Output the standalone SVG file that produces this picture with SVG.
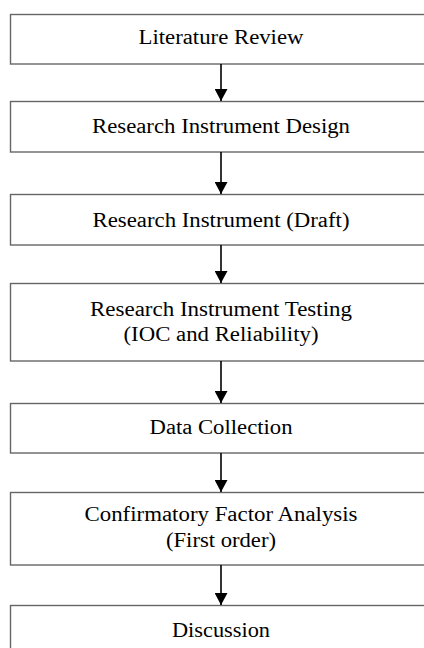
<svg xmlns="http://www.w3.org/2000/svg" width="424" height="648" viewBox="0 0 424 648">
<defs>
<style>
.box{fill:#fff;stroke:#666;stroke-width:1.4}
.t{font-family:"Liberation Serif","Times New Roman",serif;font-size:20px;fill:#000;text-anchor:middle}
.c{stroke:#000;stroke-width:1.6;fill:none}
</style>
<marker id="ah" markerWidth="14" markerHeight="13" refX="13" refY="7" orient="auto" markerUnits="userSpaceOnUse" viewBox="0 0 13 14">
<polygon points="0,0 13,7 0,14" fill="#000"/>
</marker>
</defs>
<rect width="424" height="648" fill="#fff"/>
<g id="n1"><rect class="box" x="10.5" y="14.5" width="420" height="49.5"/><text class="t" x="221" y="44" textLength="165" lengthAdjust="spacingAndGlyphs">Literature Review</text></g>
<g id="n2"><rect class="box" x="10.5" y="101.5" width="420" height="50.5"/><text class="t" x="221" y="133" textLength="258" lengthAdjust="spacingAndGlyphs">Research Instrument Design</text></g>
<g id="n3"><rect class="box" x="10.5" y="194.5" width="420" height="50.5"/><text class="t" x="221" y="227" textLength="257" lengthAdjust="spacingAndGlyphs">Research Instrument (Draft)</text></g>
<g id="n4"><rect class="box" x="10.5" y="283.5" width="420" height="77.5"/><text class="t" x="221" y="316" textLength="262" lengthAdjust="spacingAndGlyphs">Research Instrument Testing</text><text class="t" x="221" y="341" textLength="195" lengthAdjust="spacingAndGlyphs">(IOC and Reliability)</text></g>
<g id="n5"><rect class="box" x="10.5" y="403.5" width="420" height="49.5"/><text class="t" x="221" y="434" textLength="143" lengthAdjust="spacingAndGlyphs">Data Collection</text></g>
<g id="n6"><rect class="box" x="10.5" y="492.5" width="420" height="72.5"/><text class="t" x="221" y="521" textLength="273" lengthAdjust="spacingAndGlyphs">Confirmatory Factor Analysis</text><text class="t" x="221" y="547" textLength="110" lengthAdjust="spacingAndGlyphs">(First order)</text></g>
<g id="n7"><rect class="box" x="10.5" y="605.5" width="420" height="60"/><text class="t" x="221" y="637" textLength="98" lengthAdjust="spacingAndGlyphs">Discussion</text></g>
<g id="connectors">
<line class="c" x1="221" y1="64" x2="221" y2="101" marker-end="url(#ah)"/>
<line class="c" x1="221" y1="152" x2="221" y2="194" marker-end="url(#ah)"/>
<line class="c" x1="221" y1="245" x2="221" y2="283" marker-end="url(#ah)"/>
<line class="c" x1="221" y1="361" x2="221" y2="403" marker-end="url(#ah)"/>
<line class="c" x1="221" y1="453" x2="221" y2="492" marker-end="url(#ah)"/>
<line class="c" x1="221" y1="565" x2="221" y2="605" marker-end="url(#ah)"/>
</g>
</svg>
